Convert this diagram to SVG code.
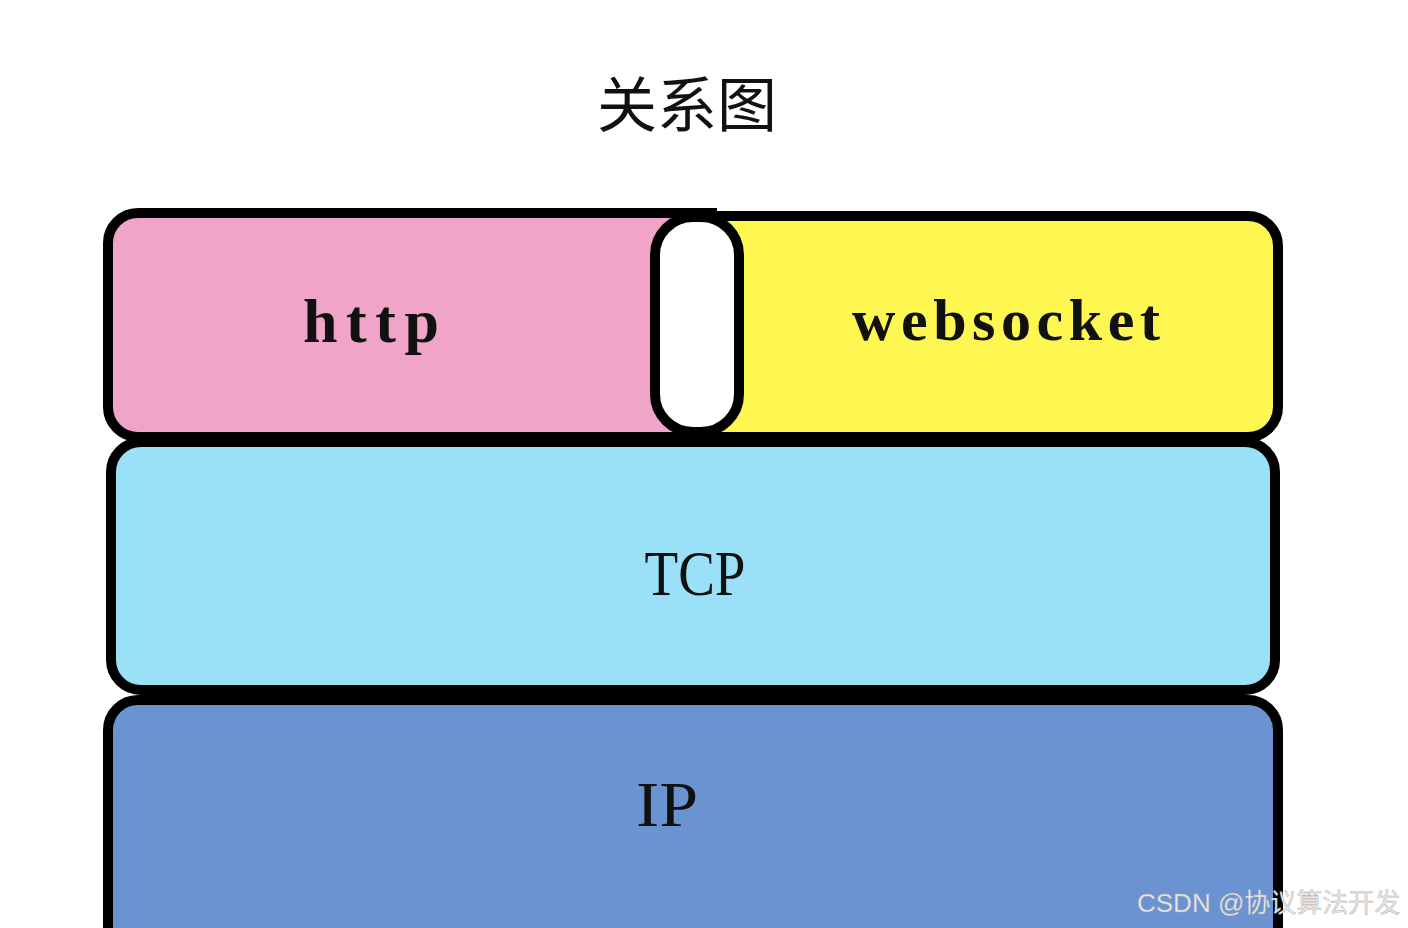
<svg xmlns="http://www.w3.org/2000/svg" width="1408" height="928" viewBox="0 0 1408 928">
<style>
.box{stroke:#000;stroke-width:10;stroke-linejoin:miter}
.lbl{font-family:"Liberation Serif","Noto Serif",serif;fill:#111;text-anchor:middle}
</style>
<rect width="1408" height="928" fill="#fff"/>
<g id="title"><text x="687" y="127" font-family="Noto Sans CJK SC, sans-serif" font-size="60" fill="#111" text-anchor="middle">关系图</text></g>
<g id="ip">
<rect class="box" x="108" y="700" width="1170" height="280" rx="30" fill="#6B93D1"/>
<text class="lbl" x="667" y="826" font-size="64" textLength="62" lengthAdjust="spacingAndGlyphs">IP</text>
</g>
<g id="tcp">
<rect class="box" x="111" y="442" width="1164" height="248" rx="30" fill="#9AE1F7"/>
<text class="lbl" x="695" y="595" font-size="64" textLength="101" lengthAdjust="spacingAndGlyphs">TCP</text>
</g>
<g id="websocket">
<path class="box" d="M690 216 H1248 A30 30 0 0 1 1278 246 V407 A30 30 0 0 1 1248 437 H690 Z" fill="#FEF752"/>
<text class="lbl" x="1006" y="340" font-size="60" textLength="308" lengthAdjust="spacing" font-weight="bold">websocket</text>
</g>
<g id="http">
<path class="box" d="M138 213 H712 V437 H138 A30 30 0 0 1 108 407 V243 A30 30 0 0 1 138 213 Z" fill="#F0A4C8"/>
<text class="lbl" x="371" y="342" font-size="62" textLength="136" lengthAdjust="spacing" font-weight="bold">http</text>
</g>
<g id="gap">
<rect class="box" x="655" y="217" width="84" height="215" rx="38" fill="#fff"/>
</g>
<g id="connectors"></g>
<g id="watermark"><text x="1137" y="912" font-family="Liberation Sans, Noto Sans CJK SC, sans-serif" font-size="26" fill="#e8e8e8" stroke="#a8a8a8" stroke-width="0.4">CSDN @协议算法开发</text></g>
</svg>
